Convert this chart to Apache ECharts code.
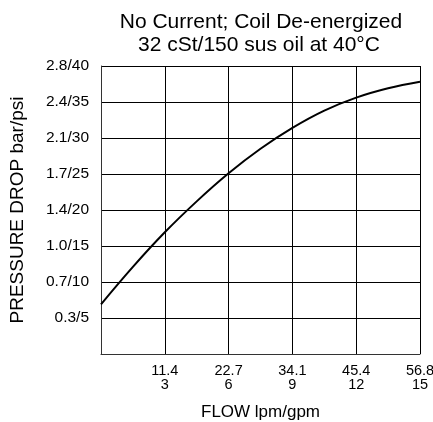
<!DOCTYPE html>
<html>
<head>
<meta charset="utf-8">
<script src="https://cdn.jsdelivr.net/npm/echarts@6/dist/echarts.min.js"></script>
<style>html,body{margin:0;padding:0;background:#fff}#c{width:433px;height:422px}</style>
</head>
<body>
<div id="c"></div>
<script>
var titleLine1 = 'No Current; Coil De-energized';
var titleLine2 = '32 cSt/150 sus oil at 40\u00B0C';
var xName = 'FLOW lpm/gpm';
var yName = 'PRESSURE DROP bar/psi';
var xTickGpm = [3, 6, 9, 12, 15];
var xTickLpm = ['11.4', '22.7', '34.1', '45.4', '56.8'];
var yTickPsi = [5, 10, 15, 20, 25, 30, 35, 40];
var yTickBar = ['0.3', '0.7', '1.0', '1.4', '1.7', '2.1', '2.4', '2.8'];
var flowGpm = [0, 1.5, 3, 4.5, 6, 7.5, 9, 10.5, 12, 13.5, 15];
var dropPsi = [6.9, 12.1, 16.9, 21.2, 25.1, 28.5, 31.4, 33.8, 35.6, 36.9, 37.8];

var FONT = 'Liberation Sans, Arial, Helvetica, sans-serif';
var titleStyle = {fontFamily: FONT, fontSize: 21, fontWeight: 'normal', color: '#000', lineHeight: 22};
var chart = echarts.init(document.getElementById('c'), null, {renderer: 'canvas'});
chart.setOption({
  animation: false,
  backgroundColor: '#fff',
  title: [
    {text: titleLine1, left: 261, top: 11.5, textAlign: 'center', padding: 0, textStyle: titleStyle},
    {text: titleLine2, left: 259, top: 34.5, textAlign: 'center', padding: 0, textStyle: titleStyle}
  ],
  grid: {left: 101, right: 13, top: 66, bottom: 68, containLabel: false, outerBoundsMode: 'none'},
  xAxis: {
    type: 'value', min: 0, max: 15, interval: 3,
    name: xName, nameLocation: 'middle', nameGap: 50,
    nameTextStyle: {fontFamily: FONT, fontSize: 17, color: '#000'},
    axisLine: {show: true, lineStyle: {color: '#333', width: 1}},
    axisTick: {show: false},
    splitLine: {show: true, lineStyle: {color: '#000', width: 1}},
    axisLabel: {
      margin: 10, fontFamily: FONT, fontSize: 14.5, color: '#000', lineHeight: 14,
      formatter: function (v) {
        var i = xTickGpm.indexOf(v);
        return i < 0 ? '' : xTickLpm[i] + '\n' + xTickGpm[i];
      }
    }
  },
  yAxis: {
    type: 'value', min: 0, max: 40, interval: 5,
    name: yName, nameLocation: 'middle', nameGap: 74, nameRotate: 90,
    nameTextStyle: {fontFamily: FONT, fontSize: 19, color: '#000'},
    axisLine: {show: true, lineStyle: {color: '#333', width: 1}},
    axisTick: {show: false},
    splitLine: {show: true, lineStyle: {color: '#000', width: 1}},
    axisLabel: {
      margin: 12, fontFamily: FONT, fontSize: 15.5, color: '#000',
      formatter: function (v) {
        var i = yTickPsi.indexOf(v);
        return i < 0 ? '' : yTickBar[i] + '/' + yTickPsi[i];
      }
    }
  },
  series: [{
    type: 'line',
    data: flowGpm.map(function (x, i) { return [x, dropPsi[i]]; }),
    smooth: 0.4,
    showSymbol: false,
    lineStyle: {color: '#000', width: 2}
  }]
});
</script>
</body>
</html>
